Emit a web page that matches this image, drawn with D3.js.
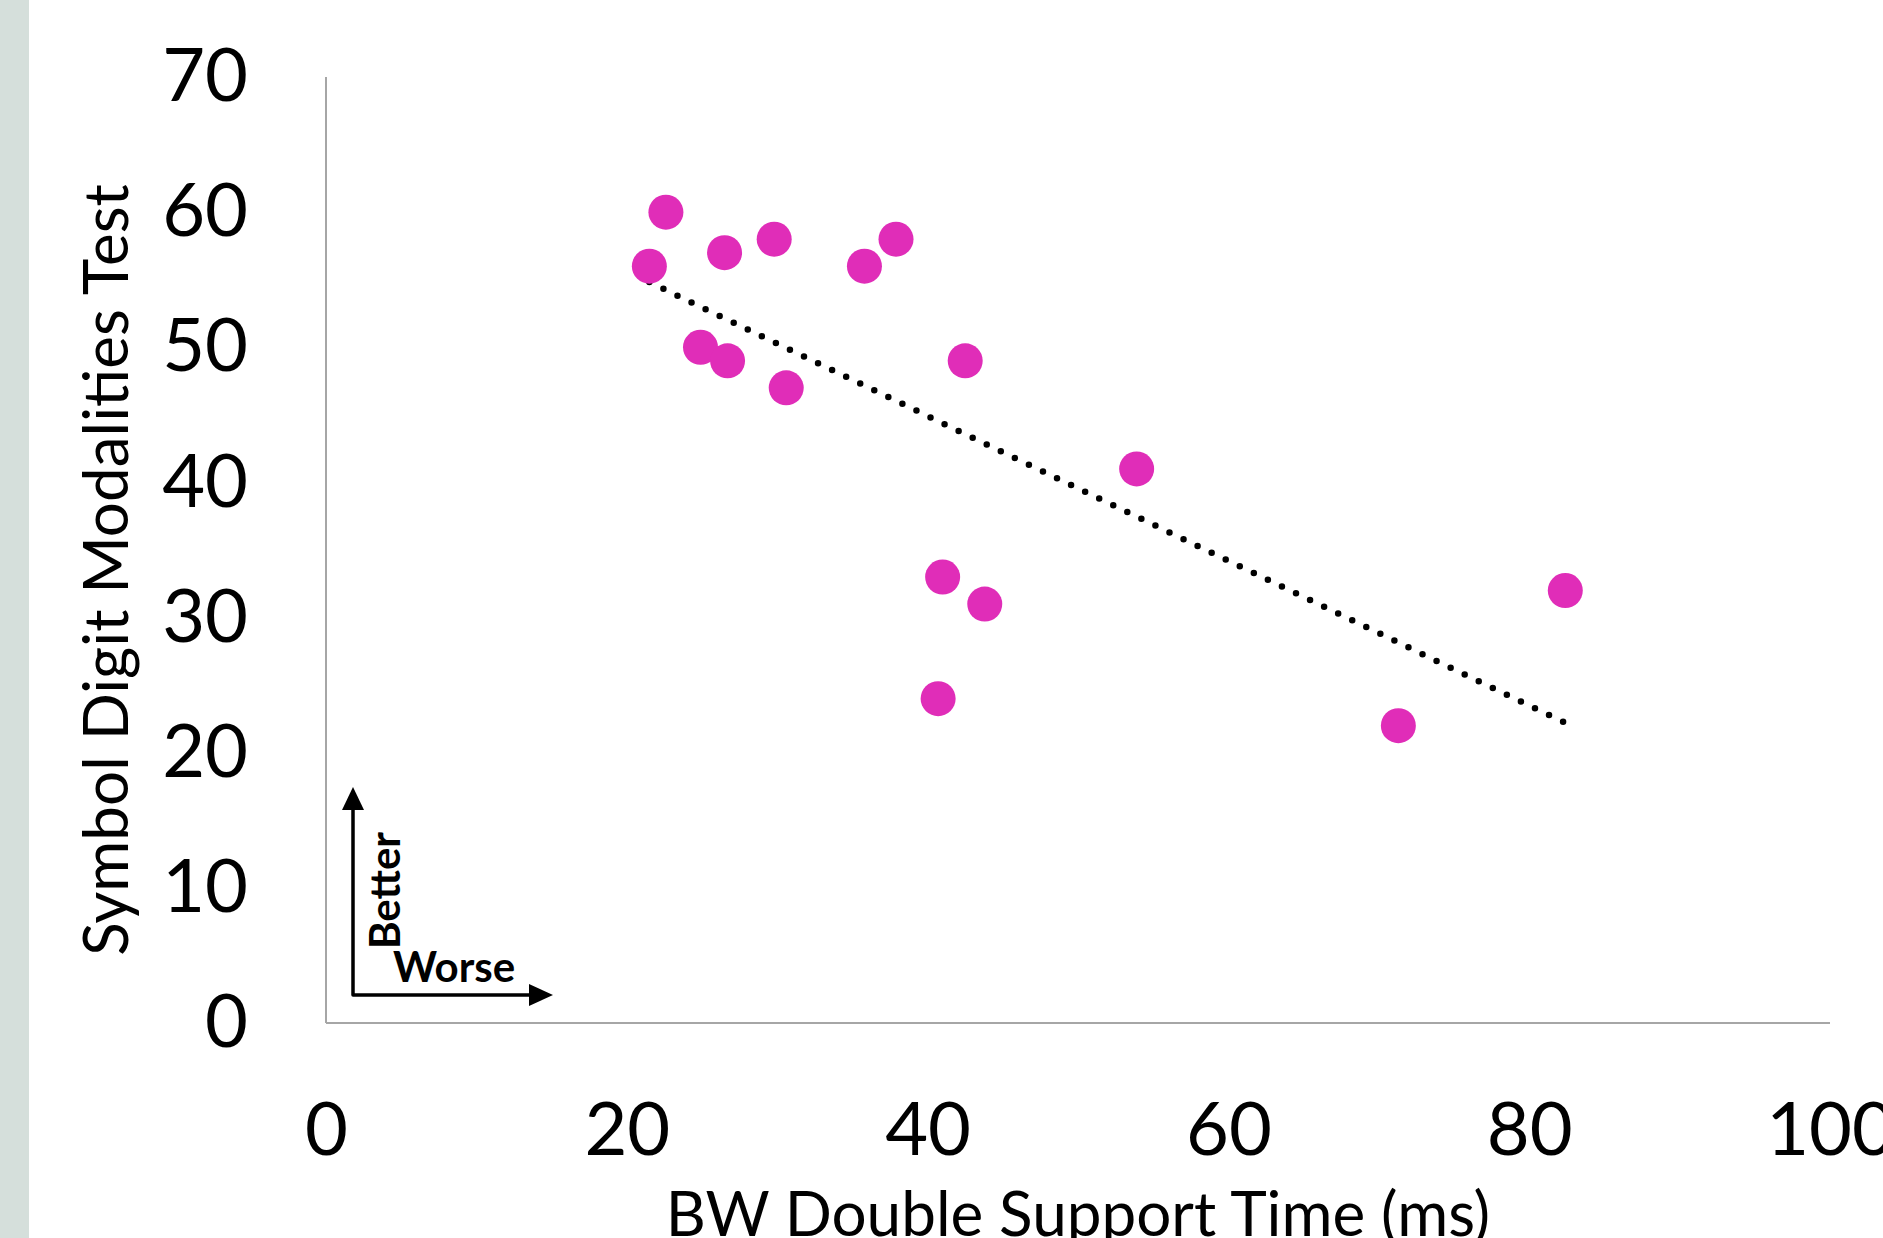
<!DOCTYPE html>
<html lang="en">
<head>
    <meta charset="UTF-8">
    <title>SDMT vs BW Double Support Time</title>
    <style>
        body { margin: 0; background: #fff; }
        .tick text { font-family: Lato, sans-serif; font-size: 74px; fill: #000; }
        .axis path { stroke: #a6a6a6; stroke-width: 2px; }
        .title { font-family: Lato, sans-serif; font-size: 62px; fill: #000; }
        .note { font-family: Lato, sans-serif; font-size: 42px; font-weight: bold; fill: #000; }
    </style>
</head>
<body>
    <script src="https://d3js.org/d3.v7.min.js"></script>
    <script>

// values
var dstTime = [22.6, 21.5, 26.5, 29.8, 35.8, 37.9, 24.9, 26.7, 30.6, 42.5, 53.9, 41.0, 43.8, 40.7, 82.4, 71.3];
var sdmt    = [60,   56,   57,   58,   56,   58,   50,   49,   47,   49,   41,   33,   31,   24,   32,   22];
var xTicks = [0, 20, 40, 60, 80, 100];
var yTicks = [0, 10, 20, 30, 40, 50, 60, 70];

var width = 1883, height = 1238;

var svg = d3.select("body").append("svg")
    .attr("width", width)
    .attr("height", height);

svg.append("rect").attr("width", width).attr("height", height).attr("fill", "#fff");
// grey strip on the left edge
svg.append("rect").attr("x", 0).attr("y", 0).attr("width", 29).attr("height", height).attr("fill", "#d5dfdb");

var x = d3.scaleLinear().domain([0, 100]).range([326, 1830]);
var y = d3.scaleLinear().domain([0, 70]).range([1023, 77]);

svg.append("g")
    .attr("class", "axis")
    .attr("transform", "translate(0," + y(0) + ")")
    .call(d3.axisBottom(x).tickValues(xTicks).tickSize(0).tickPadding(79))
    .call(function(g) { g.select(".domain").attr("d", "M" + x(0) + ",0H" + x(100)); });

svg.append("g")
    .attr("class", "axis")
    .attr("transform", "translate(" + x(0) + ",0)")
    .call(d3.axisLeft(y).tickValues(yTicks).tickSize(0).tickPadding(78))
    .call(function(g) { g.select(".domain").attr("d", "M0," + y(70) + "V" + y(0)); });

// linear trend line
var pts = dstTime.map(function(d, i) { return [d, sdmt[i]]; });
var mx = d3.mean(dstTime), my = d3.mean(sdmt);
var sxy = d3.sum(pts, function(p) { return (p[0] - mx) * (p[1] - my); });
var sxx = d3.sum(pts, function(p) { return (p[0] - mx) * (p[0] - mx); });
var slope = sxy / sxx, icpt = my - slope * mx;
var x0 = d3.min(dstTime), x1 = d3.max(dstTime);

svg.append("line")
    .attr("x1", x(x0)).attr("y1", y(icpt + slope * x0))
    .attr("x2", x(x1)).attr("y2", y(icpt + slope * x1))
    .attr("stroke", "#000")
    .attr("stroke-width", 6.5)
    .attr("stroke-linecap", "round")
    .attr("stroke-dasharray", "0 15.6");

svg.append("g").selectAll("circle")
    .data(pts)
    .join("circle")
    .attr("cx", function(d) { return x(d[0]); })
    .attr("cy", function(d) { return y(d[1]); })
    .attr("r", 17.5)
    .attr("fill", "#e02db8");

// axis titles
svg.append("text")
    .attr("class", "title")
    .attr("text-anchor", "middle")
    .attr("transform", "translate(128,570) rotate(-90)")
    .text("Symbol Digit Modalities Test");

svg.append("text")
    .attr("class", "title")
    .attr("text-anchor", "middle")
    .attr("x", 1078)
    .attr("y", 1236)
    .text("BW Double Support Time (ms)");

// better / worse arrows
var ann = svg.append("g");
ann.append("path")
    .attr("d", "M353,808V995H530")
    .attr("fill", "none")
    .attr("stroke", "#000")
    .attr("stroke-width", 3.5)
    .attr("stroke-linejoin", "round");
ann.append("path").attr("d", "M353,787L342,810H364Z").attr("fill", "#000");
ann.append("path").attr("d", "M553,995L529,984V1006Z").attr("fill", "#000");

ann.append("text")
    .attr("class", "note")
    .attr("transform", "translate(400,949) rotate(-90)")
    .text("Better");

ann.append("text")
    .attr("class", "note")
    .attr("x", 393)
    .attr("y", 982)
    .text("Worse");

    </script>
</body>
</html>
